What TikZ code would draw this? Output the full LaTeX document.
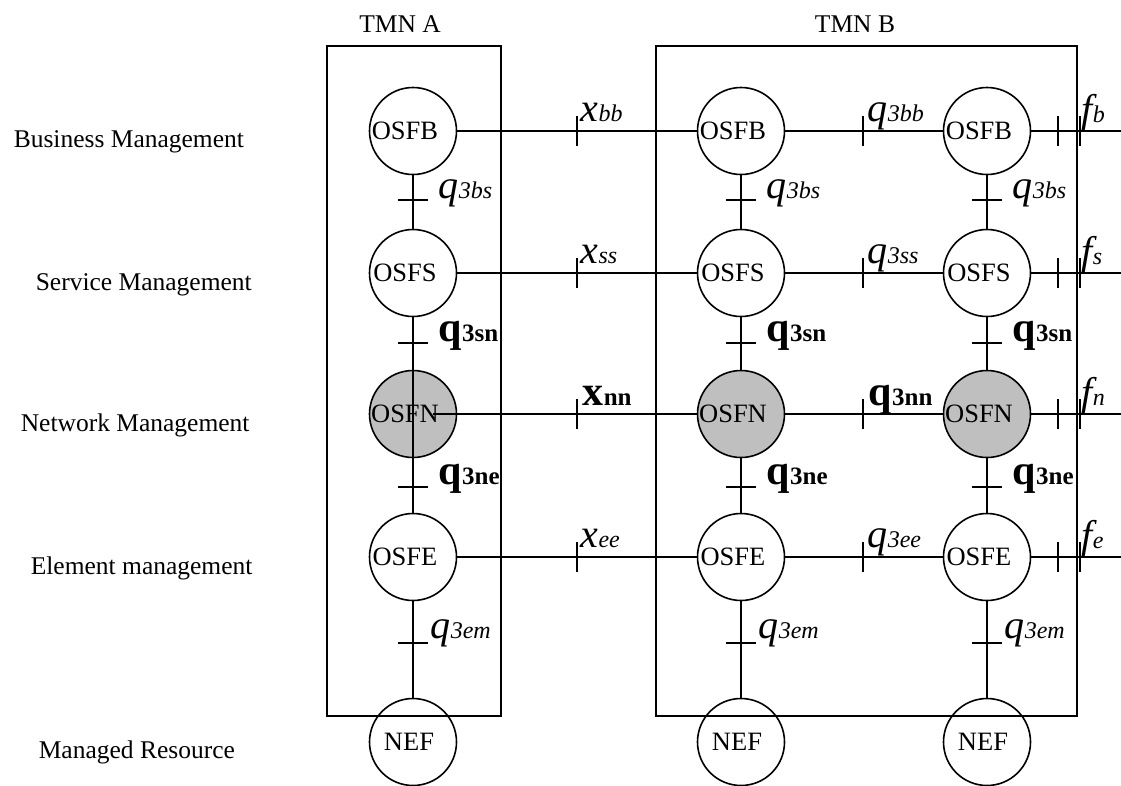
\documentclass[tikz,border=0pt]{standalone}
\usepackage{fontspec}
\setmainfont{Liberation Serif}
\newcommand{\ilab}[2]{{\fontsize{40}{40}\selectfont\itshape #1}{\fontsize{24}{24}\selectfont\itshape #2}}
\newcommand{\blab}[2]{{\fontsize{42}{42}\selectfont\bfseries #1}{\fontsize{25}{25}\selectfont\bfseries #2}}
\begin{document}
\begin{tikzpicture}[x=1pt,y=-1pt,line width=1.6pt,
  fnode/.style={circle,draw,minimum size=87pt,inner sep=0pt,font=\fontsize{26.5}{26.5}\selectfont},
  gnode/.style={fnode,fill=gray!50},
  rowlab/.style={font=\fontsize{25.5}{25.5}\selectfont,anchor=base west,inner sep=0pt},
  tmnlab/.style={font=\fontsize{25.5}{25.5}\selectfont,anchor=base,inner sep=0pt},
  tmnbox/.style={draw,anchor=north west,inner sep=0pt,line width=1.6pt},
  ilabel/.style={anchor=base west,inner sep=0pt},
  tick/.style={line width=1.6pt}]
\useasboundingbox (0,0) rectangle (1121,785);
% boxes
\node[tmnbox,minimum width=174pt,minimum height=670pt] (boxA) at (326,45) {};
\node[tmnbox,minimum width=421pt,minimum height=670pt] (boxB) at (655,45) {};
\node[tmnlab] (tA) at (400,32) {TMN A};
\node[tmnlab] (tB) at (855,32) {TMN B};
% row labels
\node[rowlab] (r1) at (13,147) {Business Management};
\node[rowlab] (r2) at (35,290) {Service Management};
\node[rowlab] (r3) at (20,431) {Network Management};
\node[rowlab] (r4) at (30,574) {Element management};
\node[rowlab] (r5) at (38,758) {Managed Resource};
% function nodes
\foreach \c/\x in {A/413,P/741,Q/987}{
  \node[fnode] (\c b) at (\x,131) {\hspace*{-16pt}OSFB};
  \node[fnode] (\c s) at (\x,273) {\hspace*{-16pt}OSFS};
  \node[gnode] (\c n) at (\x,414) {\hspace*{-16pt}OSFN};
  \node[fnode] (\c e) at (\x,557) {\hspace*{-16pt}OSFE};
  \node[fnode] (\c m) at (\x,742) {\hspace*{-8pt}NEF};
}
% free ends at right edge
\coordinate (Eb) at (1121,131);
\coordinate (Es) at (1121,273);
\coordinate (En) at (1121,414);
\coordinate (Ee) at (1121,557);
% start point inside column A OSFN
\coordinate (An0) at (433,414);
% horizontal connectors
\draw (Ab) -- (Pb); \draw (Pb) -- (Qb); \draw (Qb) -- (Eb);
\draw (As) -- (Ps); \draw (Ps) -- (Qs); \draw (Qs) -- (Es);
\draw (An0) -- (Pn); \draw (Pn) -- (Qn); \draw (Qn) -- (En);
\draw (Ae) -- (Pe); \draw (Pe) -- (Qe); \draw (Qe) -- (Ee);
% vertical connectors
\draw (Ab) -- (As); \draw (As) -- (Ae); \draw (Ae) -- (Am);
\foreach \c in {P,Q}{
  \draw (\c b) -- (\c s); \draw (\c s) -- (\c n); \draw (\c n) -- (\c e); \draw (\c e) -- (\c m);
}
% horizontal-link ticks
\foreach \y in {131,273,414,557}{
  \draw[tick] (577,\y-15) -- (577,\y+15);
  \draw[tick] (863,\y-15) -- (863,\y+15);
  \draw[tick] (1058,\y-15) -- (1058,\y+15);
  \draw[tick] (1080,\y-15) -- (1080,\y+15);
}
% vertical-link ticks
\foreach \x in {413,741,987}{
  \foreach \y in {200,343,487,643}{
    \draw[tick] (\x-15,\y) -- (\x+15,\y);
  }
}
% horizontal labels
\node[ilabel] (lxbb) at (580,121) {\ilab{x}{bb}};
\node[ilabel] (lxss) at (580,263) {\ilab{x}{ss}};
\node[ilabel] (lxnn) at (582,405) {\blab{x}{nn}};
\node[ilabel] (lxee) at (580,547) {\ilab{x}{ee}};
\node[ilabel] (lqbb) at (867,121) {\ilab{q}{3bb}};
\node[ilabel] (lqss) at (867,263) {\ilab{q}{3ss}};
\node[ilabel] (lqnn) at (868,405) {\blab{q}{3nn}};
\node[ilabel] (lqee) at (867,547) {\ilab{q}{3ee}};
\node[ilabel] (lfb) at (1081,122) {\ilab{f}{b}};
\node[ilabel] (lfs) at (1081,264) {\ilab{f}{s}};
\node[ilabel] (lfn) at (1081,405) {\ilab{f}{n}};
\node[ilabel] (lfe) at (1081,548) {\ilab{f}{e}};
% vertical labels
\foreach \c/\x in {A/413,P/741,Q/987}{
  \node[ilabel] (\c l1) at (\x+25,198) {\ilab{q}{3bs}};
  \node[ilabel] (\c l2) at (\x+25,341) {\blab{q}{3sn}};
  \node[ilabel] (\c l3) at (\x+25,484) {\blab{q}{3ne}};
  \node[ilabel] (\c l4) at (\x+17,638) {\ilab{q}{3em}};
}
\end{tikzpicture}
\end{document}
